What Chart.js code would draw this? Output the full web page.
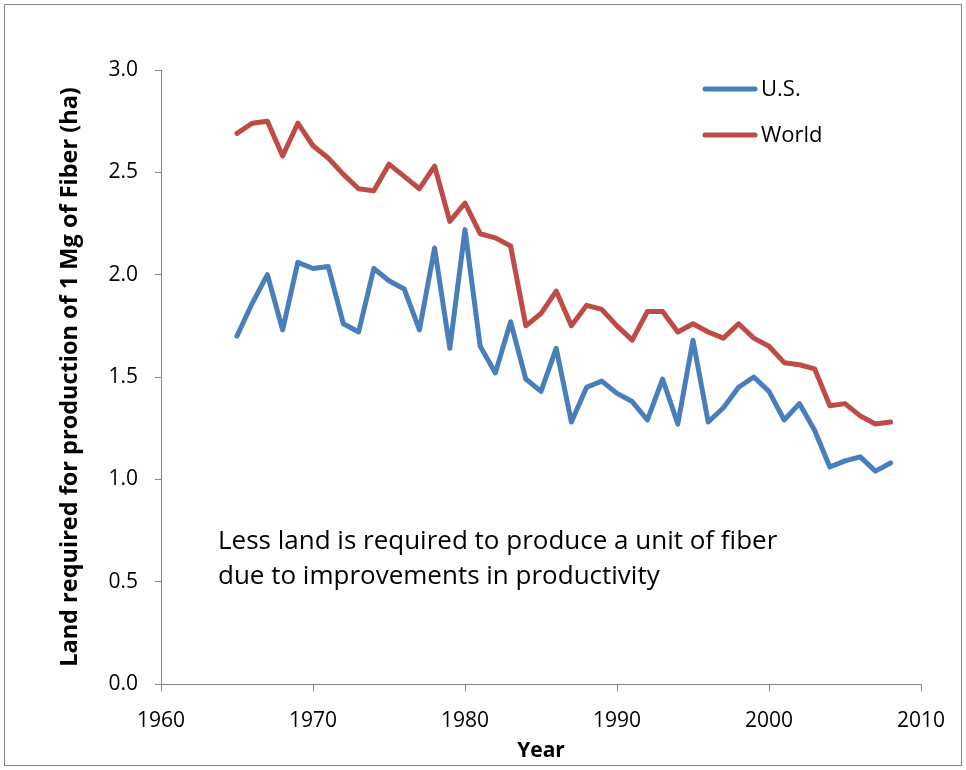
<!DOCTYPE html>
<html>
<head>
<meta charset="utf-8">
<script src="https://cdn.jsdelivr.net/npm/chart.js@4.4.1/dist/chart.umd.min.js"></script>
<style>
  html, body { margin: 0; padding: 0; background: #fff; }
  #wrap { width: 966px; height: 770px; }
</style>
</head>
<body>
<div id="wrap"><canvas id="chart" width="966" height="770"></canvas></div>
<script>
// data
const years = [1965, 1966, 1967, 1968, 1969, 1970, 1971, 1972, 1973, 1974, 1975, 1976, 1977, 1978, 1979,
  1980, 1981, 1982, 1983, 1984, 1985, 1986, 1987, 1988, 1989, 1990, 1991, 1992, 1993, 1994, 1995, 1996,
  1997, 1998, 1999, 2000, 2001, 2002, 2003, 2004, 2005, 2006, 2007, 2008];
const usValues = [1.70, 1.86, 2.00, 1.73, 2.06, 2.03, 2.04, 1.76, 1.72, 2.03, 1.97, 1.93, 1.73, 2.13, 1.64,
  2.22, 1.65, 1.52, 1.77, 1.49, 1.43, 1.64, 1.28, 1.45, 1.48, 1.42, 1.38, 1.29, 1.49, 1.27, 1.68, 1.28,
  1.35, 1.45, 1.50, 1.43, 1.29, 1.37, 1.24, 1.06, 1.09, 1.11, 1.04, 1.08];
const worldValues = [2.69, 2.74, 2.75, 2.58, 2.74, 2.63, 2.57, 2.49, 2.42, 2.41, 2.54, 2.48, 2.42, 2.53, 2.26,
  2.35, 2.20, 2.18, 2.14, 1.75, 1.81, 1.92, 1.75, 1.85, 1.83, 1.75, 1.68, 1.82, 1.82, 1.72, 1.76, 1.72,
  1.69, 1.76, 1.69, 1.65, 1.57, 1.56, 1.54, 1.36, 1.37, 1.31, 1.27, 1.28];
const seriesNames = ['U.S.', 'World'];
const seriesColors = ['#4A7EBB', '#BE4B48'];
const noteLines = ['Less land is required to produce a unit of fiber', 'due to improvements in productivity'];

const FONT = '"Open Sans", Lato, sans-serif';
const AXIS_GRAY = '#868686';

const toPoints = (vals) => vals.map((v, i) => ({ x: years[i], y: v }));

// frame, legend and note text
const decorations = {
  id: 'decorations',
  beforeDraw(chart) {
    const ctx = chart.ctx;
    ctx.save();
    ctx.fillStyle = '#fff';
    ctx.fillRect(0, 0, chart.width, chart.height);
    ctx.strokeStyle = AXIS_GRAY;
    ctx.lineWidth = 1;
    ctx.strokeRect(4.5, 4.5, 957, 761);
    ctx.restore();
  },
  afterDraw(chart) {
    const ctx = chart.ctx;
    ctx.save();
    // legend
    ctx.font = '22px ' + FONT;
    ctx.textBaseline = 'middle';
    ctx.lineCap = 'round';
    seriesNames.forEach((name, i) => {
      const y = 89 + i * 46;
      ctx.strokeStyle = seriesColors[i];
      ctx.lineWidth = 5;
      ctx.beginPath();
      ctx.moveTo(705, y);
      ctx.lineTo(755, y);
      ctx.stroke();
      ctx.fillStyle = '#000';
      ctx.fillText(name, 761, y + 1);
    });
    // note
    ctx.font = '26px ' + FONT;
    ctx.textBaseline = 'middle';
    noteLines.forEach((line, i) => {
      ctx.fillText(line, 218, 542 + i * 35);
    });
    ctx.restore();
  }
};

new Chart(document.getElementById('chart'), {
  type: 'line',
  data: {
    datasets: [
      { label: seriesNames[0], data: toPoints(usValues), borderColor: seriesColors[0], borderWidth: 5,
        pointRadius: 0, tension: 0, borderJoinStyle: 'round', borderCapStyle: 'round' },
      { label: seriesNames[1], data: toPoints(worldValues), borderColor: seriesColors[1], borderWidth: 5,
        pointRadius: 0, tension: 0, borderJoinStyle: 'round', borderCapStyle: 'round' }
    ]
  },
  options: {
    responsive: false,
    animation: false,
    events: [],
    layout: { padding: { top: 70, right: 45, left: 0, bottom: 0 } },
    plugins: { legend: { display: false }, tooltip: { enabled: false } },
    scales: {
      x: {
        type: 'linear',
        min: 1960, max: 2010,
        afterFit(scale) { scale.height = 86; },
        border: { color: AXIS_GRAY, width: 1 },
        grid: { drawOnChartArea: false, drawTicks: true, tickLength: 7, color: AXIS_GRAY },
        ticks: { stepSize: 10, color: '#000', font: { family: FONT, size: 21 }, padding: 17,
          maxRotation: 0, callback: (v) => String(v) },
        title: { display: true, text: 'Year', color: '#000', font: { family: FONT, size: 21, weight: 'bold' },
          padding: { top: 0, bottom: 6 } }
      },
      y: {
        min: 0, max: 3,
        afterFit(scale) { scale.width = 161; },
        border: { color: AXIS_GRAY, width: 1 },
        grid: { drawOnChartArea: false, drawTicks: true, tickLength: 6, color: AXIS_GRAY },
        ticks: { stepSize: 0.5, color: '#000', font: { family: FONT, size: 21 }, padding: 17,
          callback: (v) => v.toFixed(1) },
        title: { display: true, text: 'Land required for production of 1 Mg of Fiber (ha)', color: '#000',
          font: { family: FONT, size: 23.5, weight: 'bold' }, padding: { top: 56, bottom: 0 } }
      }
    }
  },
  plugins: [decorations]
});
</script>
</body>
</html>
